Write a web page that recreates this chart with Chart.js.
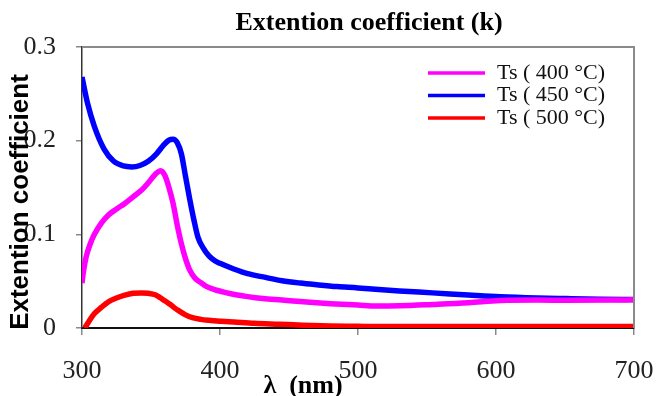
<!DOCTYPE html>
<html>
<head>
<meta charset="utf-8">
<script src="https://cdn.jsdelivr.net/npm/chart.js@4/dist/chart.umd.min.js"></script>
<style>
  html, body { margin: 0; padding: 0; background: #fff; }
  #wrap { width: 657px; height: 396px; position: relative; }
</style>
</head>
<body>
<div id="wrap"><canvas id="c" width="657" height="396"></canvas></div>
<script>
// Extinction coefficient k versus wavelength for three substrate temperatures

const seriesLabels = ['Ts ( 400 °C)', 'Ts ( 450 °C)', 'Ts ( 500 °C)'];
const seriesColors = ['#ff00ff', '#0000ff', '#ff0000'];

// Ts = 400 °C
const wl400 = [300, 301, 303, 306, 309, 314, 319, 325, 331, 337, 343, 348, 353, 357, 360, 363, 366, 369, 372, 375, 378, 382, 386, 390, 396, 401, 407, 420, 431, 445, 458, 480, 500, 513, 530, 554, 580, 603, 630, 651, 683, 700];
const k400  = [0.048, 0.060, 0.076, 0.090, 0.100, 0.112, 0.1205, 0.127, 0.133, 0.140, 0.147, 0.155, 0.164, 0.168, 0.163, 0.150, 0.133, 0.110, 0.090, 0.074, 0.062, 0.053, 0.0485, 0.0445, 0.041, 0.039, 0.0368, 0.0335, 0.0314, 0.0298, 0.0282, 0.026, 0.0245, 0.0235, 0.0238, 0.0252, 0.027, 0.0293, 0.0298, 0.0297, 0.0298, 0.0301];

// Ts = 450 °C
const wl450 = [300, 304, 309, 316, 323, 330, 336, 342, 348, 354, 359, 363, 366, 369, 372, 375, 378, 381, 384, 388, 392, 396, 400, 410, 420, 433, 445, 458, 470, 485, 500, 515, 530, 554, 580, 603, 630, 651, 675, 700];
const k450  = [0.268, 0.240, 0.215, 0.191, 0.178, 0.173, 0.172, 0.1735, 0.178, 0.186, 0.195, 0.2005, 0.2015, 0.198, 0.186, 0.162, 0.138, 0.116, 0.097, 0.085, 0.077, 0.072, 0.069, 0.063, 0.058, 0.054, 0.0505, 0.048, 0.0462, 0.0442, 0.0428, 0.041, 0.0395, 0.0375, 0.0352, 0.0333, 0.032, 0.0314, 0.0308, 0.0304];

// Ts = 500 °C
const wl500 = [302, 305, 309, 314, 319, 325, 331, 337, 343, 348, 353, 357, 360, 364, 367, 370, 375, 380, 386, 392, 401, 410, 425, 443, 460, 480, 500, 513, 550, 600, 650, 700];
const k500  = [0.000, 0.007, 0.0154, 0.022, 0.0278, 0.032, 0.035, 0.037, 0.0375, 0.037, 0.0355, 0.032, 0.029, 0.025, 0.0215, 0.0185, 0.014, 0.011, 0.0092, 0.0082, 0.0072, 0.0064, 0.005, 0.004, 0.003, 0.0022, 0.0018, 0.0015, 0.0015, 0.0015, 0.0015, 0.0015];

const xTicks = [300, 400, 500, 600, 700];
const yTicks = [0, 0.1, 0.2, 0.3];

const chartTitle = 'Extention coefficient (k)';
const yTitle = 'Extention coefficient';
const xTitle = 'λ  (nm)';

const toPoints = (xs, ys) => xs.map((x, i) => ({ x, y: ys[i] }));
const seriesData = [toPoints(wl400, k400), toPoints(wl450, k450), toPoints(wl500, k500)];

const serif = '"Liberation Serif", "Times New Roman", serif';
const sans = '"Liberation Sans", Arial, sans-serif';

// Titles, plot frame and the in-plot legend
const decorations = {
  id: 'decorations',
  afterDraw(chart) {
    const ctx = chart.ctx;
    const a = chart.chartArea;
    ctx.save();

    // grey frame on top and right sides
    ctx.strokeStyle = '#8a8a8a';
    ctx.lineWidth = 2;
    ctx.beginPath();
    ctx.moveTo(a.left, a.top);
    ctx.lineTo(a.right, a.top);
    ctx.lineTo(a.right, a.bottom);
    ctx.stroke();

    // chart title
    ctx.fillStyle = '#000';
    ctx.textAlign = 'center';
    ctx.textBaseline = 'middle';
    ctx.font = 'bold 26px ' + serif;
    ctx.fillText(chartTitle, 369, 23);

    // x axis title
    ctx.font = 'bold 26px ' + serif;
    ctx.fillText(xTitle, 303, 386);

    // y axis title
    ctx.save();
    ctx.translate(21, 202);
    ctx.rotate(-Math.PI / 2);
    ctx.font = 'bold 26px ' + sans;
    ctx.fillText(yTitle, 0, 0);
    ctx.restore();

    // legend
    const ds = chart.data.datasets;
    ctx.font = '22px ' + serif;
    ctx.textAlign = 'left';
    ds.forEach((d, i) => {
      const y = 73 + i * 22.5;
      ctx.strokeStyle = d.borderColor;
      ctx.lineWidth = 3.5;
      ctx.beginPath();
      ctx.moveTo(428, y);
      ctx.lineTo(485, y);
      ctx.stroke();
      ctx.fillStyle = '#111';
      ctx.fillText(d.label, 497, y);
    });
    ctx.restore();
  }
};

new Chart(document.getElementById('c'), {
  type: 'line',
  data: {
    datasets: seriesData.map((pts, i) => ({
      label: seriesLabels[i],
      data: pts,
      borderColor: seriesColors[i],
      backgroundColor: seriesColors[i],
      borderWidth: 5.5,
      pointRadius: 0,
      tension: 0.4,
      cubicInterpolationMode: 'monotone',
      fill: false
    }))
  },
  options: {
    responsive: false,
    animation: false,
    devicePixelRatio: 1,
    layout: { padding: { top: 47, right: 23, left: 0, bottom: 0 } },
    plugins: {
      legend: { display: false },
      title: { display: false },
      tooltip: { enabled: false }
    },
    scales: {
      x: {
        type: 'linear',
        min: 300,
        max: 700,
        afterBuildTicks(scale) { scale.ticks = xTicks.map(v => ({ value: v })); },
        afterFit(scale) {
          scale.height = 68;
          scale.paddingLeft = 0;
          scale.paddingRight = 0;
        },
        grid: { drawOnChartArea: false, drawTicks: true, tickLength: 7, color: '#8a8a8a', lineWidth: 1.5 },
        border: { display: true, color: '#111', width: 2 },
        ticks: { color: '#222', font: { family: serif, size: 26 }, padding: 21, maxRotation: 0 }
      },
      y: {
        type: 'linear',
        min: 0,
        max: 0.3,
        afterBuildTicks(scale) { scale.ticks = yTicks.map(v => ({ value: v })); },
        afterFit(scale) {
          scale.width = 82;
          scale.paddingTop = 0;
          scale.paddingBottom = 0;
        },
        grid: { drawOnChartArea: false, drawTicks: true, tickLength: 6, color: '#8a8a8a', lineWidth: 1.5 },
        border: { display: true, color: '#333', width: 1.5 },
        ticks: { color: '#222', font: { family: serif, size: 26 }, padding: 20 }
      }
    }
  },
  plugins: [decorations]
});
</script>
</body>
</html>
